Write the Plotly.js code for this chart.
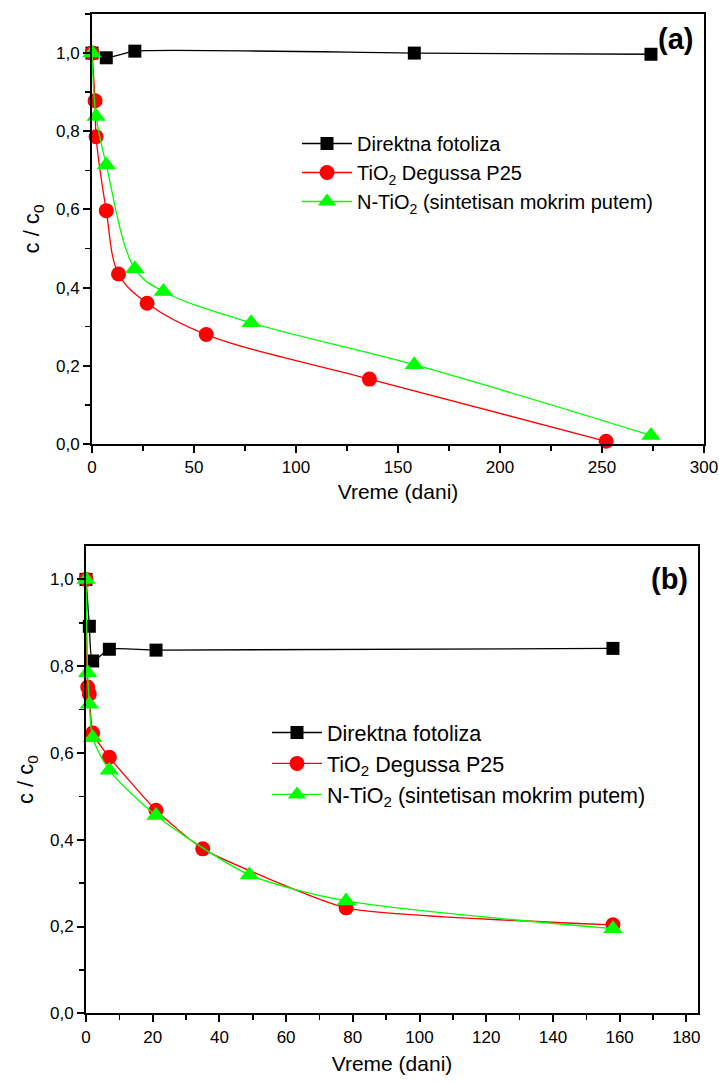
<!DOCTYPE html>
<html><head><meta charset="utf-8">
<script src="https://cdn.plot.ly/plotly-3.0.1.min.js"></script>
<style>html,body{margin:0;padding:0;background:#fff}</style>
</head><body><div id="chart" style="width:719px;height:1083px"></div>
<script>
const seriesNames = ['Direktna fotoliza', 'TiO<sub>2</sub> Degussa P25', 'N-TiO<sub>2</sub> (sintetisan mokrim putem)'];
const panelLabels = ['<b>(a)</b>', '<b>(b)</b>'];
const xTitle = 'Vreme (dani)';
const yTitle = 'c / c<sub>0</sub>';

// panel (a)
const aPhotolysisDays = [0, 7, 21, 158, 274];
const aPhotolysisC = [1.0, 0.988, 1.005, 1.0, 0.997];
const aP25Days = [0, 1.5, 2, 7, 13, 27, 56, 136, 252];
const aP25C = [1.0, 0.878, 0.786, 0.597, 0.435, 0.360, 0.280, 0.166, 0.007];
const aNTiO2Days = [0, 2, 7, 21, 35, 78, 158, 274];
const aNTiO2C = [1.0, 0.838, 0.714, 0.448, 0.390, 0.310, 0.203, 0.022];

// panel (b)
const bPhotolysisDays = [0, 1, 2, 7, 21, 158];
const bPhotolysisC = [1.0, 0.892, 0.812, 0.839, 0.837, 0.841];
const bP25Days = [0, 0.5, 1, 2, 7, 21, 35, 78, 158];
const bP25C = [1.0, 0.752, 0.736, 0.646, 0.590, 0.468, 0.379, 0.243, 0.204];
const bNTiO2Days = [0, 0.5, 1, 2, 7, 21, 49, 78, 158];
const bNTiO2C = [1.0, 0.785, 0.712, 0.635, 0.560, 0.456, 0.319, 0.259, 0.195];

const FONT = 'Liberation Sans, Arial, sans-serif';
const styles = [
  {color: '#000000', symbol: 'square', size: 13},
  {color: '#ff0000', symbol: 'circle', size: 15},
  {color: '#00ff00', symbol: 'triangle-up', size: 17}
];

function mk(x, y, i, xa, ya, leg, smooth) {
  const s = styles[i];
  return {
    x: x, y: y, xaxis: xa, yaxis: ya, legend: leg,
    type: 'scatter', mode: 'lines+markers', name: seriesNames[i],
    line: {color: s.color, width: 1.3, shape: 'spline', smoothing: smooth},
    marker: {color: s.color, symbol: s.symbol, size: s.size, line: {width: 0}},
    cliponaxis: false
  };
}

const data = [
  mk(aPhotolysisDays, aPhotolysisC, 0, 'x', 'y', 'legend', 0.5),
  mk(aP25Days, aP25C, 1, 'x', 'y', 'legend', 1),
  mk(aNTiO2Days, aNTiO2C, 2, 'x', 'y', 'legend', 1),
  mk(bPhotolysisDays, bPhotolysisC, 0, 'x2', 'y2', 'legend2', 0.6),
  mk(bP25Days, bP25C, 1, 'x2', 'y2', 'legend2', 0.45),
  mk(bNTiO2Days, bNTiO2C, 2, 'x2', 'y2', 'legend2', 0.7)
];

const W = 719, H = 1083;
function axBase() {
  return {
    showgrid: false, zeroline: false, showline: true, linecolor: '#000', linewidth: 2,
    mirror: true, ticks: 'outside', ticklen: 7, tickwidth: 2, tickcolor: '#000',
    tickfont: {family: FONT, size: 17, color: '#000'}, automargin: false, fixedrange: true
  };
}
const minorTicks = (d) => ({dtick: d, ticks: 'outside', ticklen: 5, tickwidth: 1.5, tickcolor: '#000'});

const xaxis = Object.assign(axBase(), {
  domain: [92 / W, 704 / W], range: [0, 300], dtick: 50, tick0: 0, anchor: 'y',
  minor: minorTicks(25),
  title: {text: xTitle, font: {family: FONT, size: 21, color: '#000'}, standoff: 8}
});
const yaxis = Object.assign(axBase(), {
  domain: [1 - 444 / H, 1 - 14 / H], range: [0, 1.1], dtick: 0.2, tick0: 0, tickformat: '.1f', anchor: 'x',
  minor: minorTicks(0.1),
  title: {text: yTitle, font: {family: FONT, size: 22, color: '#000'}, standoff: 10}
});
const xaxis2 = Object.assign(axBase(), {
  domain: [86 / W, 698 / W], range: [0, 183.5], dtick: 20, tick0: 0, anchor: 'y2',
  minor: minorTicks(10),
  title: {text: xTitle, font: {family: FONT, size: 21, color: '#000'}, standoff: 11}
});
const yaxis2 = Object.assign(axBase(), {
  domain: [1 - 1013.3 / H, 1 - 546 / H], range: [0, 1.077], dtick: 0.2, tick0: 0, tickformat: '.1f', anchor: 'x2',
  minor: minorTicks(0.1),
  title: {text: yTitle, font: {family: FONT, size: 22, color: '#000'}, standoff: 10}
});

function legendBox(x, y, fs) {
  return {
    x: x, y: y, xanchor: 'left', yanchor: 'top', bgcolor: 'rgba(0,0,0,0)', borderwidth: 0,
    font: {family: FONT, size: fs, color: '#000'}, itemwidth: 50, tracegroupgap: 0,
    traceorder: 'normal', itemclick: false, itemdoubleclick: false
  };
}

const layout = {
  width: W, height: H, margin: {l: 0, r: 0, t: 0, b: 0},
  paper_bgcolor: '#fff', plot_bgcolor: '#fff', separators: ',.',
  font: {family: FONT, color: '#000'},
  xaxis: xaxis, yaxis: yaxis, xaxis2: xaxis2, yaxis2: yaxis2,
  showlegend: true,
  legend: legendBox(297 / W, 1 - 124 / H, 20),
  legend2: legendBox(267 / W, 1 - 712 / H, 21.5),
  annotations: [
    {text: panelLabels[0], xref: 'paper', yref: 'paper', x: 675 / W, y: 1 - 39 / H, showarrow: false,
     xanchor: 'center', yanchor: 'middle', font: {family: FONT, size: 29, color: '#000'}},
    {text: panelLabels[1], xref: 'paper', yref: 'paper', x: 669 / W, y: 1 - 579 / H, showarrow: false,
     xanchor: 'center', yanchor: 'middle', font: {family: FONT, size: 29, color: '#000'}}
  ]
};

Plotly.newPlot('chart', data, layout, {staticPlot: true, displayModeBar: false});
</script></body></html>
